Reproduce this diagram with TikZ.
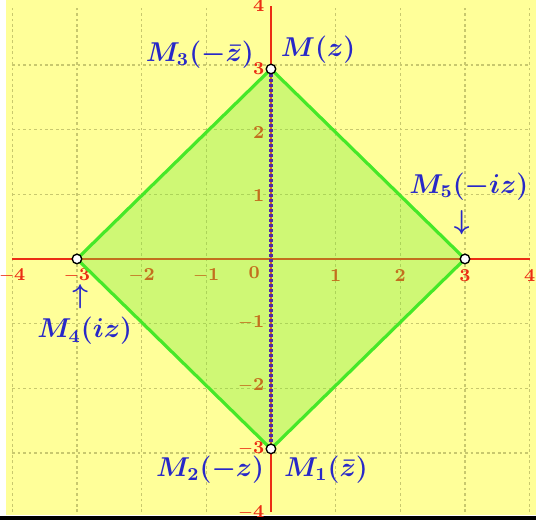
\documentclass[tikz,border=0pt]{standalone}
\usepackage{xcolor}
\usepackage{amsmath}
\usepackage{tikz}
\usetikzlibrary{arrows.meta,positioning}
\definecolor{paperyellow}{RGB}{255,255,153}
\definecolor{gridolive}{RGB}{200,200,110}
\definecolor{axisred}{RGB}{235,45,20}
\definecolor{squaregreen}{RGB}{70,232,40}
\definecolor{squarefill}{RGB}{120,235,50}
\definecolor{labelblue}{RGB}{40,40,200}
\definecolor{dotpurple}{RGB}{80,40,170}

\begin{document}
\begin{tikzpicture}[x=1cm, y=0.979cm,
  ticklbl/.style={font=\fontsize{8}{9}\selectfont\bfseries, text=axisred, inner sep=1pt},
  ptlbl/.style={font=\fontsize{11.5}{13}\selectfont\boldmath, text=labelblue, inner sep=1pt},
  vertex/.style={circle, draw=black, fill=white, line width=0.6pt, minimum size=4.2pt, inner sep=0pt}]
\useasboundingbox (-4.19,-4.155) rectangle (4.098,4.09);
% background and grid
\fill[paperyellow] (-4.098,-4.044) rectangle (4.098,4.09);
\fill[black] (-4.19,-4.06) rectangle (4.098,-4.12);
\draw[gridolive, line width=0.5pt, dash pattern=on 1.2pt off 1.2pt] (-4,-4) grid (4,4);
% axes
\draw[axisred, line width=0.9pt] (-4,0) -- (4,0);
\draw[axisred, line width=0.9pt] (0,-4) -- (0,4);
% tick labels
\foreach \k in {-4,-3,-2,-1,1,2,3,4}
  \node[ticklbl] (tx\k) at (\k,-0.26) {$\mathbf{\k}$};
\node[ticklbl] (tx0) at (-0.26,-0.22) {0};
\foreach \k in {-4,-3,-2,-1,1,2,3,4}
  \node[ticklbl, anchor=east] (ty\k) at (-0.06,\k) {$\mathbf{\k}$};
% the square
\coordinate (p1) at (0,-3);
\coordinate (p3) at (0,3);
\coordinate (p4) at (-3,0);
\coordinate (p5) at (3,0);
\fill[squarefill, fill opacity=0.35] (p3) -- (p5) -- (p1) -- (p4) -- cycle;
\draw[squaregreen, line width=1.4pt, line join=round] (p3) -- (p5) -- (p1) -- (p4) -- cycle;
\draw[dotpurple, line width=1.4pt, dash pattern=on 1.1pt off 1.1pt] (p3) -- (p1);
% points
\node[vertex] (m) at (p3) {};
\node[vertex] (m1) at (p1) {};
\node[vertex] (m4) at (p4) {};
\node[vertex] (m5) at (p5) {};
% labels
\node[ptlbl] (lm3) at (-1.1,3.22) {$M_3(-\bar z)$};
\node[ptlbl] (lm) at (0.73,3.30) {$M(z)$};
\node[ptlbl] (lm5) at (3.06,1.14) {$M_5(-iz)$};
\node[ptlbl] (ar5) at (2.95,0.58) {$\downarrow$};
\node[ptlbl] (ar4) at (-2.95,-0.6) {$\uparrow$};
\node[ptlbl] (lm4) at (-2.88,-1.14) {$M_4(iz)$};
\node[ptlbl] (lm2) at (-0.94,-3.33) {$M_2(-z)$};
\node[ptlbl] (lm1) at (0.85,-3.33) {$M_1(\bar z)$};
\end{tikzpicture}
\end{document}
